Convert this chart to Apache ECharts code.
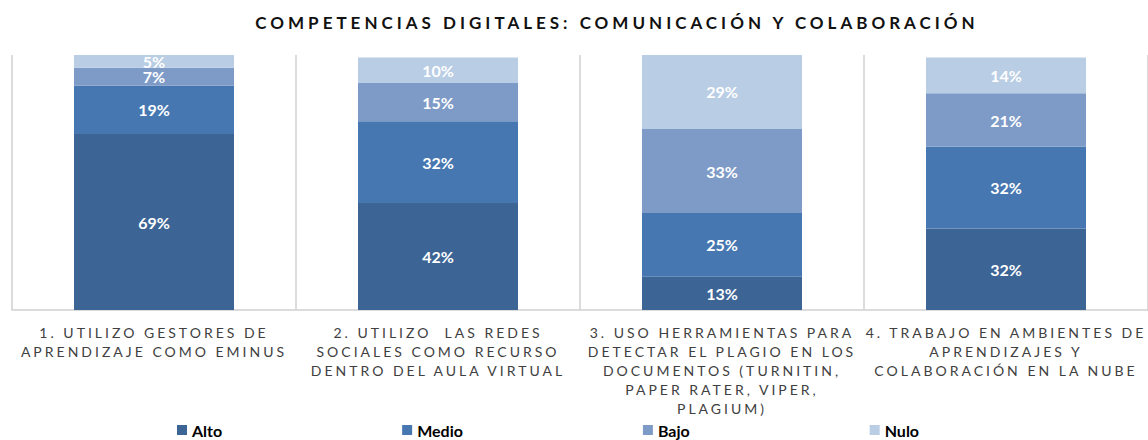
<!DOCTYPE html>
<html>
<head>
<meta charset="utf-8">
<script src="https://cdn.jsdelivr.net/npm/echarts@6/dist/echarts.min.js"></script>
<style>
  html, body { margin: 0; padding: 0; background: #fff; }
  #grafica { width: 1148px; height: 440px; }
  /* espaciado de letras para titulo y etiquetas del eje */
  #grafica text[fill="#404040"] { letter-spacing: 3px; }
  #grafica text[fill="#111111"] { letter-spacing: 4px; }
</style>
</head>
<body>
<div id="grafica"></div>
<script>
var categorias = [
  '1. UTILIZO GESTORES DE\nAPRENDIZAJE COMO EMINUS',
  '2. UTILIZO  LAS REDES\nSOCIALES COMO RECURSO\nDENTRO DEL AULA VIRTUAL',
  '3. USO HERRAMIENTAS PARA\nDETECTAR EL PLAGIO EN LOS\nDOCUMENTOS (TURNITIN,\nPAPER RATER, VIPER,\nPLAGIUM)',
  '4. TRABAJO EN AMBIENTES DE\nAPRENDIZAJES Y\nCOLABORACIÓN EN LA NUBE'
];
var alto  = [69, 42, 13, 32];
var medio = [19, 32, 25, 32];
var bajo  = [7, 15, 33, 21];
var nulo  = [5, 10, 29, 14];

var colores = ['#3c6495', '#4677b0', '#7e9bc7', '#b9cde4'];

function serie(nombre, datos, color) {
  return {
    name: nombre,
    type: 'bar',
    stack: 'total',
    barWidth: 160,
    data: datos,
    itemStyle: { color: color },
    label: {
      show: true,
      position: 'inside',
      formatter: '{c}%',
      color: '#fff',
      fontFamily: 'Lato',
      fontWeight: 'bold',
      fontSize: 16
    }
  };
}

var grafica = echarts.init(document.getElementById('grafica'), null, { renderer: 'svg' });

option = {
  animation: false,
  title: {
    text: 'COMPETENCIAS DIGITALES: COMUNICACIÓN Y COLABORACIÓN',
    left: 612,
    top: 9,
    textAlign: 'center',
    textStyle: {
      color: '#111111',
      fontFamily: 'Lato',
      fontWeight: 'bold',
      fontSize: 17
    }
  },
  legend: {
    data: ['Alto', 'Medio', 'Bajo', 'Nulo'],
    left: 172,
    top: 417,
    icon: 'rect',
    itemWidth: 10,
    itemHeight: 10,
    itemGap: 180,
    textStyle: {
      color: '#000',
      fontFamily: 'Lato',
      fontWeight: 'bold',
      fontSize: 16
    }
  },
  grid: {
    left: 12,
    right: 0,
    top: 55,
    bottom: 130
  },
  xAxis: {
    type: 'category',
    data: categorias,
    axisTick: { show: false },
    axisLine: { lineStyle: { color: '#d0d0d0', width: 1.5 } },
    splitLine: { show: true, lineStyle: { color: '#d0d0d0', width: 1.5 } },
    axisLabel: {
      interval: 0,
      margin: 13,
      color: '#404040',
      fontFamily: 'Lato',
      fontSize: 14,
      lineHeight: 19
    }
  },
  yAxis: {
    type: 'value',
    min: 0,
    max: 100,
    show: false
  },
  series: [
    serie('Alto', alto, colores[0]),
    serie('Medio', medio, colores[1]),
    serie('Bajo', bajo, colores[2]),
    serie('Nulo', nulo, colores[3])
  ]
};

grafica.setOption(option);
</script>
</body>
</html>
